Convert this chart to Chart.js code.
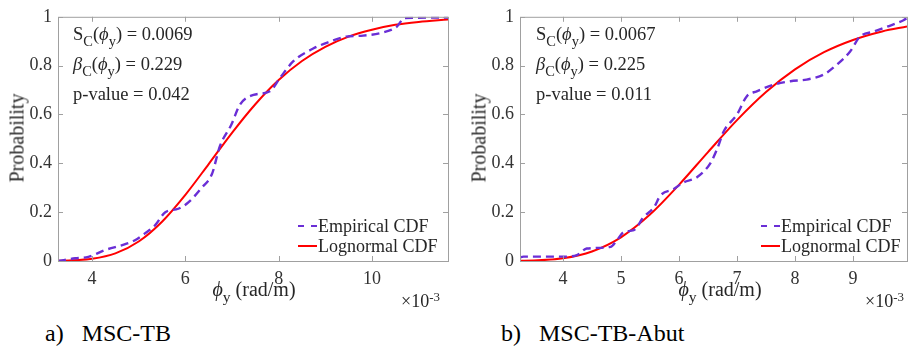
<!DOCTYPE html>
<html>
<head>
<meta charset="utf-8">
<script src="https://cdn.jsdelivr.net/npm/chart.js@4/dist/chart.umd.min.js"></script>
<style>
  html, body { margin: 0; padding: 0; background: #fff; }
  body { width: 912px; height: 351px; position: relative; overflow: hidden;
         font-family: "Liberation Serif", "Times New Roman", serif; color: #262626; }
  .panel { position: absolute; top: 0; width: 456px; height: 300px; }
  .txt { position: absolute; white-space: nowrap; }
  .stats { font-size: 18.5px; line-height: 30px; }
  sub { font-size: 0.78em; vertical-align: -0.4em; line-height: 0; }
  sup { font-size: 0.72em; vertical-align: 0.5em; line-height: 0; }
  .legend { font-size: 18px; line-height: 20px; }
  .legend .row { display: flex; align-items: center; }
  .legend .dash { width: 19px; height: 0; border-top: 2px dashed #6a2ed6; margin-right: 1px; }
  .legend .solid { width: 19px; height: 0; border-top: 2px solid #ff0000; margin-right: 1px; }
  .ylab { font-size: 20px; transform: translate(-50%, -50%) rotate(-90deg); }
  .xlab { font-size: 20px; transform: translateX(-50%); }
  .expo { font-size: 18px; }
  .cap { font-size: 24px; color: #000; }
</style>
</head>
<body>
<div class="panel" style="left:0"><canvas id="chartA" width="456" height="300"></canvas></div>
<div class="panel" style="left:456px"><canvas id="chartB" width="456" height="300"></canvas></div>

<!-- panel a texts -->
<div class="txt stats" style="left:73px;top:19px">
  <div>S<sub>C</sub>(<i>ϕ</i><sub>y</sub>) = 0.0069</div>
  <div><i>β</i><sub>C</sub>(<i>ϕ</i><sub>y</sub>) = 0.229</div>
  <div>p-value = 0.042</div>
</div>
<div class="txt legend" style="left:298px;top:216px">
  <div class="row"><span class="dash"></span>Empirical CDF</div>
  <div class="row"><span class="solid"></span>Lognormal CDF</div>
</div>
<div class="txt ylab" style="left:17px;top:138px">Probability</div>
<div class="txt xlab" style="left:254px;top:278px"><i>ϕ</i><sub>y</sub> (rad/m)</div>
<div class="txt expo" style="left:401px;top:291px">×10<sup>-3</sup></div>
<div class="txt cap" style="left:45px;top:320px">a)&nbsp;&nbsp;&nbsp;MSC-TB</div>

<!-- panel b texts -->
<div class="txt stats" style="left:536px;top:19px">
  <div>S<sub>C</sub>(<i>ϕ</i><sub>y</sub>) = 0.0067</div>
  <div><i>β</i><sub>C</sub>(<i>ϕ</i><sub>y</sub>) = 0.225</div>
  <div>p-value = 0.011</div>
</div>
<div class="txt legend" style="left:761px;top:216px">
  <div class="row"><span class="dash"></span>Empirical CDF</div>
  <div class="row"><span class="solid"></span>Lognormal CDF</div>
</div>
<div class="txt ylab" style="left:479px;top:138px">Probability</div>
<div class="txt xlab" style="left:720px;top:278px"><i>ϕ</i><sub>y</sub> (rad/m)</div>
<div class="txt expo" style="left:865px;top:291px">×10<sup>-3</sup></div>
<div class="txt cap" style="left:501px;top:320px">b)&nbsp;&nbsp;&nbsp;MSC-TB-Abut</div>

<script>
'use strict';
/* global Chart */

// ---- data (curvature in x10^-3 rad/m, probability) ----
const aEmpX = [3.27, 3.64, 3.92, 4.28, 4.71, 4.92, 5.14, 5.35, 5.57, 5.85, 6.07, 6.35, 6.57, 6.74, 6.99, 7.17, 7.46, 7.81, 8.03, 8.31, 8.74, 9.1, 9.45, 9.81, 10.24, 10.53, 10.7, 11.63];
const aEmpP = [0.0, 0.011, 0.017, 0.045, 0.069, 0.085, 0.114, 0.146, 0.2, 0.214, 0.241, 0.30, 0.356, 0.47, 0.56, 0.64, 0.68, 0.695, 0.75, 0.817, 0.87, 0.898, 0.919, 0.923, 0.936, 0.959, 0.995, 0.997];
const aLogX = [3.27, 3.5, 4, 4.5, 5, 5.5, 6, 6.5, 7, 7.5, 8, 8.5, 9, 9.5, 10, 10.5, 11, 11.63];
const aLogP = [0.001, 0.002, 0.009, 0.031, 0.080, 0.161, 0.271, 0.397, 0.525, 0.642, 0.741, 0.819, 0.877, 0.919, 0.947, 0.967, 0.979, 0.989];

const bEmpX = [3.26, 3.32, 4.01, 4.24, 4.41, 4.82, 4.93, 5.05, 5.22, 5.39, 5.57, 5.68, 5.91, 6.08, 6.31, 6.54, 6.66, 6.77, 7.0, 7.17, 7.34, 7.63, 7.92, 8.2, 8.49, 8.72, 8.95, 9.12, 9.35, 9.58, 9.87, 9.93];
const bEmpP = [0.015, 0.018, 0.018, 0.024, 0.051, 0.058, 0.085, 0.119, 0.126, 0.18, 0.22, 0.268, 0.295, 0.322, 0.343, 0.40, 0.46, 0.53, 0.60, 0.675, 0.695, 0.722, 0.736, 0.743, 0.763, 0.804, 0.858, 0.919, 0.939, 0.959, 0.986, 0.995];
const bLogX = [3.26, 3.5, 4, 4.5, 5, 5.5, 6, 6.5, 7, 7.5, 8, 8.5, 9, 9.5, 9.93];
const bLogP = [0.001, 0.002, 0.011, 0.039, 0.097, 0.190, 0.312, 0.446, 0.577, 0.692, 0.785, 0.855, 0.905, 0.940, 0.960];

const aXTicks = [4, 6, 8, 10];
const bXTicks = [4, 5, 6, 7, 8, 9];
const yTicks = [0, 0.2, 0.4, 0.6, 0.8, 1];

const FONT = '"Liberation Serif", "Times New Roman", serif';
const AXIS = '#a0a0a0';

// box around the plot with inward MATLAB-style ticks
const framePlugin = {
  id: 'frame',
  afterDraw(chart) {
    const { ctx, chartArea: a, scales } = chart;
    ctx.save();
    ctx.strokeStyle = AXIS;
    ctx.lineWidth = 1;
    ctx.strokeRect(a.left + 0.5, a.top + 0.5, a.right - a.left, a.bottom - a.top);
    ctx.beginPath();
    scales.x.ticks.forEach(t => {
      const px = Math.round(scales.x.getPixelForValue(t.value)) + 0.5;
      ctx.moveTo(px, a.bottom); ctx.lineTo(px, a.bottom - 5);
      ctx.moveTo(px, a.top); ctx.lineTo(px, a.top + 5);
    });
    scales.y.ticks.forEach(t => {
      const py = Math.round(scales.y.getPixelForValue(t.value)) + 0.5;
      ctx.moveTo(a.left, py); ctx.lineTo(a.left + 5, py);
      ctx.moveTo(a.right, py); ctx.lineTo(a.right - 5, py);
    });
    ctx.stroke();
    ctx.restore();
  }
};

const toPts = (xs, ys) => xs.map((x, i) => ({ x, y: ys[i] }));

function makePanel(id, o) {
  return new Chart(document.getElementById(id), {
    type: 'line',
    data: {
      datasets: [
        {
          label: 'Empirical CDF',
          data: toPts(o.empX, o.empP),
          borderColor: '#6a2ed6',
          borderWidth: 2.4,
          borderDash: [8, 5],
          pointRadius: 0,
          cubicInterpolationMode: 'monotone',
        },
        {
          label: 'Lognormal CDF',
          data: toPts(o.logX, o.logP),
          borderColor: '#ff0000',
          borderWidth: 2,
          pointRadius: 0,
          cubicInterpolationMode: 'monotone',
        },
      ],
    },
    options: {
      responsive: false,
      animation: false,
      devicePixelRatio: 1,
      layout: { padding: { left: 0, top: 15, right: o.padRight, bottom: 0 } },
      plugins: { legend: { display: false }, tooltip: { enabled: false } },
      scales: {
        x: {
          type: 'linear',
          min: o.xMin, max: o.xMax,
          grid: { display: false, drawTicks: false },
          border: { display: false },
          afterBuildTicks: s => { s.ticks = o.xTicks.map(v => ({ value: v })); },
          afterFit: s => { s.height = 39; },
          ticks: { color: '#333', padding: 7, font: { family: FONT, size: 18 }, callback: v => String(v) },
        },
        y: {
          min: 0, max: 1,
          grid: { display: false, drawTicks: false },
          border: { display: false },
          afterBuildTicks: s => { s.ticks = yTicks.map(v => ({ value: v })); },
          afterFit: s => { s.width = o.yWidth; },
          ticks: { color: '#333', padding: 6, font: { family: FONT, size: 18 }, callback: v => String(v) },
        },
      },
    },
    plugins: [framePlugin],
  });
}

makePanel('chartA', { empX: aEmpX, empP: aEmpP, logX: aLogX, logP: aLogP,
  xMin: 3.27, xMax: 11.63, xTicks: aXTicks, yWidth: 58, padRight: 8 });
makePanel('chartB', { empX: bEmpX, empP: bEmpP, logX: bLogX, logP: bLogP,
  xMin: 3.26, xMax: 9.93, xTicks: bXTicks, yWidth: 64, padRight: 5 });
</script>
</body>
</html>
